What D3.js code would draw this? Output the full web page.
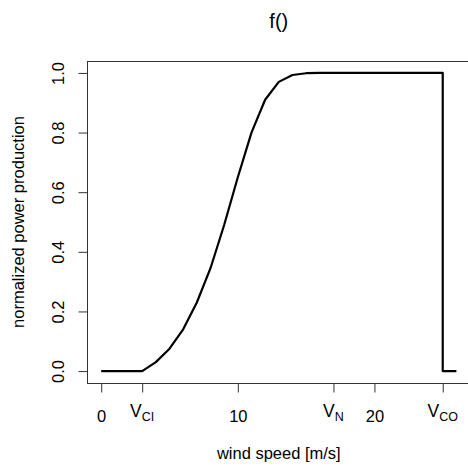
<!DOCTYPE html>
<html>
<head>
<meta charset="utf-8">
<script src="https://cdn.jsdelivr.net/npm/d3@7"></script>
<style>
  body { margin: 0; background: #fff; }
  svg { font-family: "Liberation Sans", Arial, sans-serif; }
</style>
</head>
<body>
<svg id="chart" width="468" height="469"></svg>
<script>
// wind speed (m/s) and normalized power
const speed = [0, 1, 2, 3, 4, 5, 6, 7, 8, 9, 10, 11, 12, 13, 14, 15, 16, 17, 18, 19, 20, 21, 22, 23, 24, 25, 25, 26];
const power = [0, 0, 0, 0, 0.03, 0.075, 0.14, 0.23, 0.345, 0.49, 0.65, 0.80, 0.91, 0.97, 0.993, 0.999, 1, 1, 1, 1, 1, 1, 1, 1, 1, 1, 0, 0];

const xTicks = [0, 10, 20];
const yTicks = [0, 0.2, 0.4, 0.6, 0.8, 1.0];
// special speeds: cut-in, nominal, cut-out
const vLabels = [{ v: 3, sub: "CI" }, { v: 17, sub: "N" }, { v: 25, sub: "CO" }];

const svg = d3.select("#chart");
const plot = { left: 87, right: 470.6, top: 61, bottom: 383 };
const fs = 16.5;

const x = d3.scaleLinear().domain([-1.04, 27.04]).range([plot.left, plot.right]);
const y = d3.scaleLinear().domain([-0.04, 1.04]).range([plot.bottom, plot.top]);

// box
svg.append("rect")
  .attr("x", plot.left + 0.5).attr("y", plot.top + 0.5)
  .attr("width", plot.right - plot.left).attr("height", plot.bottom - plot.top)
  .attr("fill", "none").attr("stroke", "#333").attr("stroke-width", 1);

// x axis
const xAxis = svg.append("g")
  .attr("transform", "translate(0," + (plot.bottom + 0.5) + ")")
  .call(d3.axisBottom(x)
    .tickValues(xTicks.concat(vLabels.map(d => d.v)))
    .tickFormat(d => xTicks.includes(d) ? d : "")
    .tickSize(9).tickSizeOuter(0));
xAxis.select(".domain").remove();
xAxis.selectAll("line").attr("stroke", "#333");
xAxis.selectAll("text")
  .attr("font-size", fs).attr("font-family", "Liberation Sans, Arial, sans-serif")
  .attr("fill", "#000").attr("dy", null).attr("y", 38.5);

// V labels with subscripts
vLabels.forEach(function(d) {
  const t = svg.append("text")
    .attr("x", x(d.v)).attr("y", plot.bottom + 34)
    .attr("text-anchor", "middle")
    .attr("font-size", 17.5);
  t.append("tspan").text("V");
  t.append("tspan").attr("dy", 3.5).attr("font-size", 12.5).text(d.sub);
});

// y axis
const yAxis = svg.append("g")
  .attr("transform", "translate(" + (plot.left + 0.5) + ",0)")
  .call(d3.axisLeft(y).tickValues(yTicks).tickSize(9).tickSizeOuter(0));
yAxis.select(".domain").remove();
yAxis.selectAll("line").attr("stroke", "#333");
yAxis.selectAll("text").remove();
yAxis.selectAll(".tick").append("text")
  .attr("transform", "translate(" + (63 - plot.left) + ",0) rotate(-90)")
  .attr("text-anchor", "middle")
  .attr("font-size", fs).attr("font-family", "Liberation Sans, Arial, sans-serif")
  .attr("fill", "#000")
  .text(d => d3.format(".1f")(d));

// curve
const line = d3.line().x((d, i) => x(speed[i])).y(d => y(d));
svg.append("path")
  .datum(power)
  .attr("d", line)
  .attr("fill", "none").attr("stroke", "#000").attr("stroke-width", 2.2)
  .attr("stroke-linejoin", "round");

// titles
svg.append("text")
  .attr("x", (plot.left + plot.right) / 2).attr("y", 28)
  .attr("text-anchor", "middle").attr("font-size", 20)
  .text("f()");

svg.append("text")
  .attr("x", (plot.left + plot.right) / 2).attr("y", 459)
  .attr("text-anchor", "middle").attr("font-size", fs)
  .text("wind speed [m/s]");

svg.append("text")
  .attr("transform", "translate(24," + ((plot.top + plot.bottom) / 2) + ") rotate(-90)")
  .attr("text-anchor", "middle").attr("font-size", fs)
  .text("normalized power production");
</script>
</body>
</html>
